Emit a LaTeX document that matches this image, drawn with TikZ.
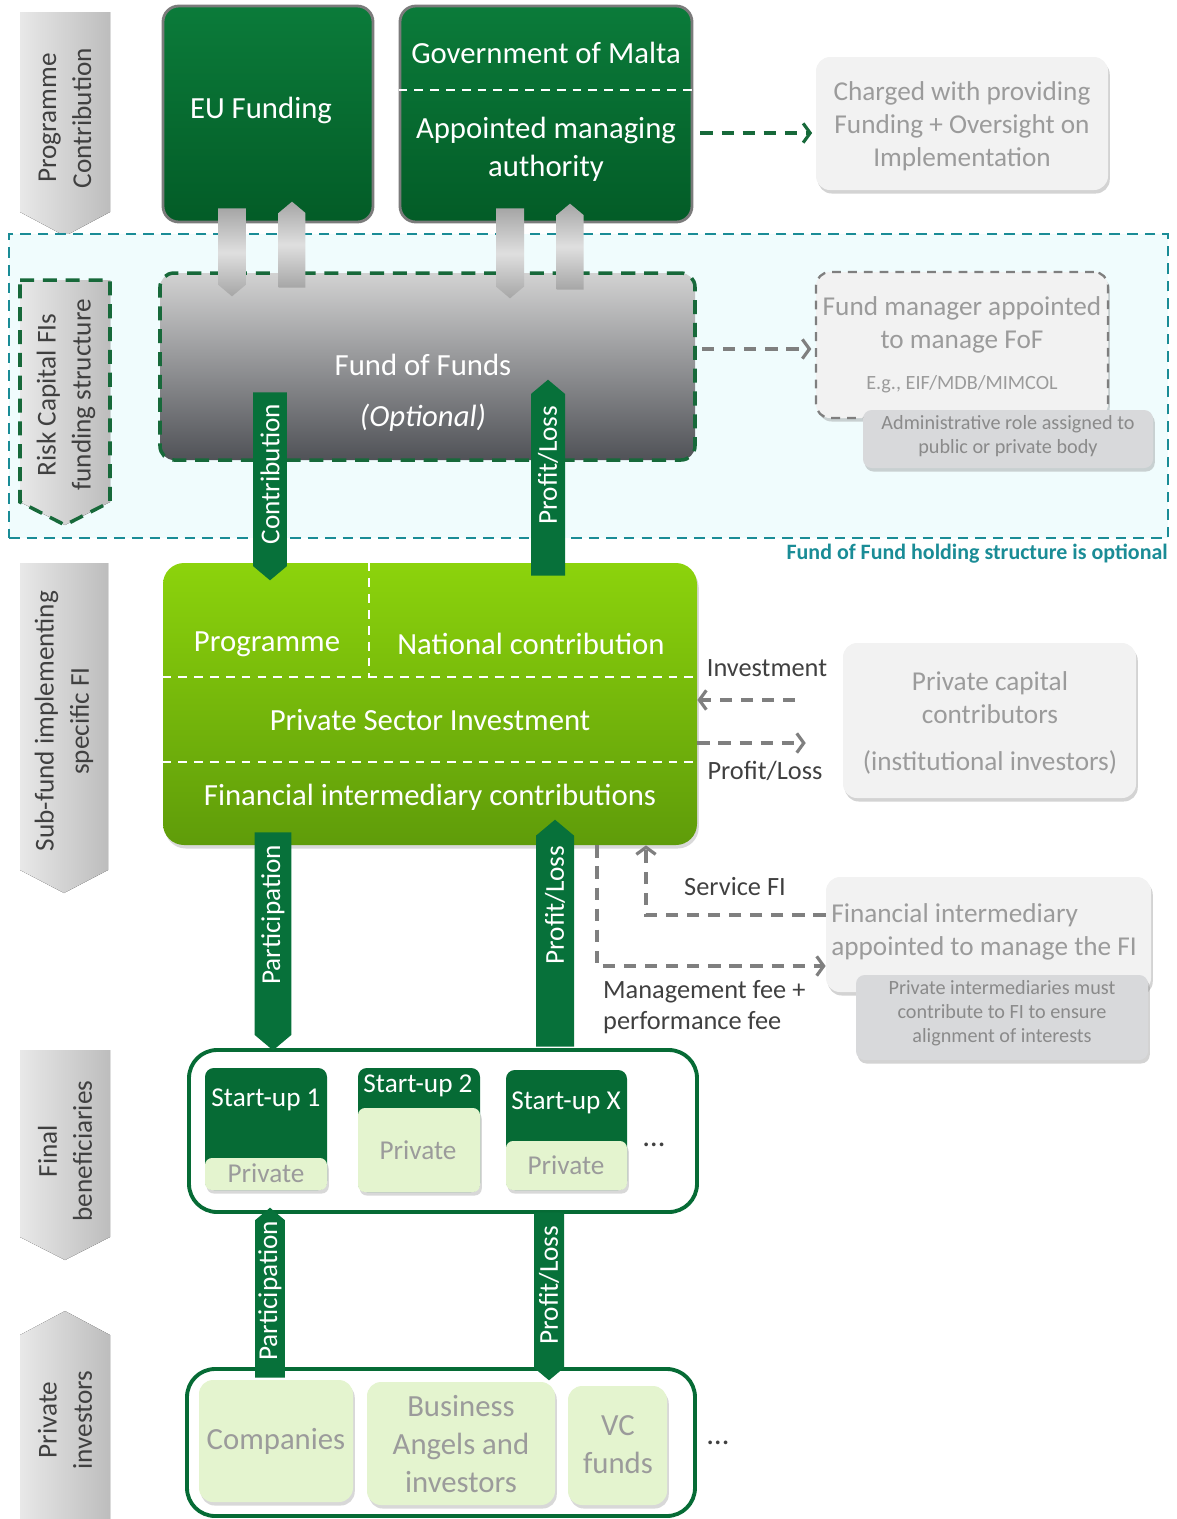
\documentclass[tikz,border=0pt]{standalone}
\usepackage{fontspec}
\setmainfont{Carlito}
\usepackage{tikz}
\usetikzlibrary{positioning,arrows.meta,shapes.arrows,fit,shadows}

\definecolor{dkgreentop}{HTML}{0B7B3A}
\definecolor{dkgreenbot}{HTML}{035C27}
\definecolor{dkgreen}{HTML}{066B35}
\definecolor{arrgreen}{HTML}{07713A}
\definecolor{boxedge}{HTML}{7B7B7B}
\definecolor{foftop}{HTML}{D2D2D2}
\definecolor{fofbot}{HTML}{505257}
\definecolor{fofdash}{HTML}{17693A}
\definecolor{subtop}{HTML}{8CD30C}
\definecolor{subbot}{HTML}{5F9C0A}
\definecolor{palegreen}{HTML}{E4F4CF}
\definecolor{boxgray}{HTML}{F2F2F2}
\definecolor{boxtext}{HTML}{9B9B9B}
\definecolor{notegray}{HTML}{D8D9DB}
\definecolor{notetext}{HTML}{8A8A8A}
\definecolor{fofteal}{HTML}{1A8C96}
\definecolor{fofbg}{HTML}{F0FCFD}
\definecolor{flowgray}{HTML}{7F7F7F}
\definecolor{labgray}{HTML}{404040}
\definecolor{chevl}{HTML}{E8E8E8}
\definecolor{chevr}{HTML}{BDBDBD}

\begin{document}
\begin{tikzpicture}[x=0.02cm,y=-0.02cm]
	\tikzset{
		chev/.style={left color=chevl, right color=chevr},
		sidetext/.style={rotate=90, align=center, text=labgray, font=\fontsize{15.5}{20}\selectfont},
		topbox/.style={draw=boxedge, line width=1.6pt, rounded corners=9pt, top color=dkgreentop, bottom color=dkgreenbot, inner sep=0pt},
		wtext/.style={text=white, align=center, font=\fontsize{17.5}{21.5}\selectfont},
		gtext/.style={text=boxtext, align=center, font=\fontsize{15.5}{18.7}\selectfont},
		ntext/.style={text=notetext, align=center, font=\fontsize{11.5}{13.8}\selectfont},
		lightbox/.style={fill=boxgray, rounded corners=8pt, inner sep=0pt, drop shadow={shadow xshift=1pt, shadow yshift=-2pt, opacity=.35}},
		notebox/.style={fill=notegray, rounded corners=5pt, inner sep=0pt, drop shadow={shadow xshift=1pt, shadow yshift=-2pt, opacity=.35}},
		zonebox/.style={draw=fofteal, fill=fofbg, line width=1.3pt, dash pattern=on 6pt off 4pt, inner sep=0pt},
		fofbox/.style={top color=foftop, bottom color=fofbot, draw=fofdash, line width=2pt, dash pattern=on 8pt off 5pt, rounded corners=8pt, inner sep=0pt},
		subbox/.style={top color=subtop, bottom color=subbot, rounded corners=12pt, inner sep=0pt, drop shadow={shadow xshift=1pt, shadow yshift=-2pt, opacity=.3}},
		groupbox/.style={draw=dkgreen, line width=2.2pt, rounded corners=16pt, fill=white, inner sep=0pt},
		startup/.style={fill=dkgreen, rounded corners=5pt, inner sep=0pt},
		privpart/.style={fill=palegreen, rounded corners=4pt, inner sep=0pt, drop shadow={shadow xshift=1pt, shadow yshift=-2pt, opacity=.3}},
		invbox/.style={fill=palegreen, rounded corners=8pt, inner sep=0pt, drop shadow={shadow xshift=1pt, shadow yshift=-2pt, opacity=.3}},
		sutext/.style={text=white, font=\fontsize{15.5}{18}\selectfont},
		ptext/.style={text=boxtext, align=center, font=\fontsize{17.5}{21.5}\selectfont},
		wline/.style={draw=white, line width=1.2pt, dash pattern=on 5pt off 4pt},
		blockarr/.style={single arrow, single arrow head extend=0pt, single arrow tip angle=100, inner sep=0pt, rotate=90, anchor=tail},
		uparr/.style={blockarr},
		downarr/.style={blockarr, shape border rotate=180},
		greenarr/.style={fill=arrgreen},
		arrtext/.style={rotate=90, text=white, font=\fontsize{15.5}{18}\selectfont},
		grayarr/.style={top color=gray!70, bottom color=gray!70, middle color=gray!25},
		flow/.style={draw=flowgray, line width=1.8pt, dash pattern=on 7pt off 5pt, -{Straight Barb[length=4pt,width=11pt]}},
		gflow/.style={flow, draw=fofdash},
		flowlab/.style={text=labgray, font=\fontsize{15}{18}\selectfont},
		dots/.style={text=labgray, font=\fontsize{17.5}{21}\selectfont},
	}
	\useasboundingbox (0,0) rectangle (1177,1519);

	% side labels
	\fill[chev] (20,12) -- (110,12) -- (110,212) -- (65,236) -- (20,212) -- cycle;
	\node[sidetext] (lab1) at (65,118) {Programme\\Contribution};
	\node[zonebox, fit={(9,234) (1168,538)}] (zone) {};
	\node[anchor=east, inner sep=0pt, text=fofteal, font=\bfseries\fontsize{12.5}{15}\selectfont] (zonelab) at (1168,554) {Fund of Fund holding structure is optional};
	\filldraw[chev, draw=fofdash, line width=2pt, dash pattern=on 8pt off 5pt] (20,280) -- (110,280) -- (110,502) -- (65,525) -- (20,502) -- cycle;
	\node[sidetext] (lab2) at (66,395) {Risk Capital FIs\\funding structure};
	\fill[chev] (20,563) -- (108,563) -- (108,870) -- (64,893) -- (20,870) -- cycle;
	\node[sidetext] (lab3) at (64,721) {Sub-fund implementing\\specific FI};
	\fill[chev] (20,1050) -- (110,1050) -- (110,1237) -- (65,1260) -- (20,1237) -- cycle;
	\node[sidetext] (lab4) at (65,1151) {Final\\beneficiaries};
	\fill[chev] (20,1335) -- (65,1311) -- (110,1335) -- (110,1519) -- (20,1519) -- cycle;
	\node[sidetext] (lab5) at (65,1420) {Private\\investors};

	% top level
	\node[topbox, fit={(163,6) (373,222)}] (eu) {};
	\node[wtext] (euname) at (261,110) {EU Funding};
	\node[topbox, fit={(400,6) (692,222)}] (gov) {};
	\node[wtext] (govname) at (546,53) {Government of Malta};
	\node[wtext] (mauth) at (546,149) {Appointed managing\\authority};
	\draw[wline] (gov.west |- 0,90) -- (gov.east |- 0,90);
	\node[lightbox, fit={(816,57) (1108,190)}] (charged) {};
	\node[gtext] (chargedtext) at (962,126) {Charged with providing\\Funding + Oversight on\\Implementation};

	% fund of funds
	\node[fofbox, fit={(160,273) (695,460)}] (fof) {};
	\node[wtext] (fofname) at (423,365) {Fund of Funds};
	\node[wtext, font=\itshape\fontsize{17.5}{21.5}\selectfont] (fofopt) at (423,418) {(Optional)};
	\node[lightbox, draw=flowgray, line width=1.3pt, dash pattern=on 5pt off 4pt, fit={(816,272) (1108,418)}] (fofmgr) {};
	\node[gtext] (mgrname) at (962,325) {Fund manager appointed\\to manage FoF};
	\node[ntext, text=boxtext] (mgreg) at (962,384) {E.g., EIF/MDB/MIMCOL};
	\node[notebox, fit={(863,410) (1153,468)}] (admin) {};
	\node[ntext] (admintext) at (1008,436) {Administrative role assigned to\\public or private body};

	% sub-fund
	\node[subbox, fit={(163,563) (697,845)}] (subfund) {};
	\draw[wline] (subfund.north -| 369,0) -- (369,677);
	\draw[wline] (subfund.west |- 0,677) -- (subfund.east |- 0,677);
	\draw[wline] (subfund.west |- 0,762) -- (subfund.east |- 0,762);
	\node[wtext] (prog) at (267,644) {Programme};
	\node[wtext] (natc) at (531,644) {National contribution};
	\node[wtext] (psi) at (430,720) {Private Sector Investment};
	\node[wtext] (fic) at (430,797) {Financial intermediary contributions};
	\node[lightbox, fit={(843,643) (1136,798)}] (privcap) {};
	\node[gtext] (privcaptext) at (990,723) {Private capital\\contributors\\[8pt](institutional investors)};
	\node[lightbox, fit={(826,877) (1151,992)}] (finint) {};
	\node[gtext, anchor=west, inner sep=0pt, align=left] (fintext) at (831,932) {Financial intermediary\\appointed to manage the FI};
	\node[notebox, fit={(856,975) (1148,1060)}] (privint) {};
	\node[ntext] (privinttext) at (1002,1013) {Private intermediaries must\\contribute to FI to ensure\\alignment of interests};

	% final beneficiaries
	\node[groupbox, fit={(189,1050) (697,1212)}] (finben) {};
	\node[startup, fit={(205,1068) (327,1190)}] (s1) {};
	\node[privpart, fit={(205,1158) (327,1190)}] (s1p) {};
	\node[sutext] (s1name) at (266,1100) {Start-up 1};
	\node[gtext] (s1ptext) at (266,1173) {Private};
	\node[startup, fit={(358,1068) (480,1192)}] (s2) {};
	\node[privpart, fit={(358,1108) (480,1192)}] (s2p) {};
	\node[sutext] (s2name) at (418,1086) {Start-up 2};
	\node[gtext] (s2ptext) at (418,1150) {Private};
	\node[startup, fit={(506,1070) (627,1190)}] (sx) {};
	\node[privpart, fit={(506,1141) (627,1190)}] (sxp) {};
	\node[sutext] (sxname) at (566,1103) {Start-up X};
	\node[gtext] (sxptext) at (566,1165) {Private};
	\node[dots] (dots1) at (654,1145) {\dots};

	% private investors
	\node[groupbox, fit={(187,1369) (695,1516)}] (privinv) {};
	\node[invbox, fit={(199,1380) (353,1502)}] (comp) {};
	\node[ptext] (comptext) at (276,1441) {Companies};
	\node[invbox, fit={(367,1382) (555,1505)}] (angels) {};
	\node[ptext] (angelstext) at (461,1444) {Business\\Angels and\\investors};
	\node[invbox, fit={(568,1386) (667,1505)}] (vc) {};
	\node[ptext] (vctext) at (618,1445) {VC\\funds};
	\node[dots] (dots2) at (718,1443) {\dots};

	% block arrows
	\node[downarr, grayarr, minimum width=0.56cm, minimum height=1.76cm] (g1) at (232,208) {};
	\node[uparr, grayarr, minimum width=0.54cm, minimum height=1.72cm] (g2) at (292,288) {};
	\node[downarr, grayarr, minimum width=0.56cm, minimum height=1.8cm] (g3) at (510,208) {};
	\node[uparr, grayarr, minimum width=0.54cm, minimum height=1.72cm] (g4) at (570,290) {};
	\node[downarr, greenarr, minimum width=0.68cm, minimum height=3.76cm] (contrib) at (270,392) {};
	\node[arrtext] (contribtext) at (270,474) {Contribution};
	\node[uparr, greenarr, minimum width=0.68cm, minimum height=3.92cm] (fofpl) at (548,576) {};
	\node[arrtext] (fofpltext) at (548,465) {Profit/Loss};
	\node[downarr, greenarr, minimum width=0.74cm, minimum height=4.36cm] (partic) at (273,832) {};
	\node[arrtext] (partictext) at (273,915) {Participation};
	\node[uparr, greenarr, minimum width=0.76cm, minimum height=4.54cm] (subpl) at (555,1047) {};
	\node[arrtext] (subpltext) at (555,905) {Profit/Loss};
	\node[uparr, greenarr, minimum width=0.6cm, minimum height=3.4cm] (invpart) at (270,1378) {};
	\node[arrtext] (invparttext) at (270,1291) {Participation};
	\node[downarr, greenarr, minimum width=0.6cm, minimum height=3.36cm] (invpl) at (549,1212) {};
	\node[arrtext] (invpltext) at (549,1285) {Profit/Loss};

	% dashed flows
	\draw[gflow, shorten <=4pt, shorten >=2pt] (gov.east |- 0,133) -- (charged.west |- 0,133);
	\draw[flow, shorten <=3pt, shorten >=2pt] (fof.east |- 0,349) -- (fofmgr.west |- 0,349);
	\draw[flow, shorten <=27pt] (privcap.west |- 0,700) -- (subfund.east |- 0,700);
	\draw[flow, shorten >=21pt] (subfund.east |- 0,743) -- (privcap.west |- 0,743);
	\node[flowlab] (invlab) at (767,668) {Investment};
	\node[flowlab] (pllab) at (765,771) {Profit/Loss};
	\draw[flow] (finint.west |- 0,915) -| (subfund.south -| 646,0);
	\draw[flow] (subfund.south -| 597,0) |- (finint.west |- 0,966);
	\node[flowlab] (servlab) at (735,887) {Service FI};
	\node[flowlab, anchor=west, align=left] (feelab) at (597,1007) {Management fee +\\performance fee};
\end{tikzpicture}
\end{document}
